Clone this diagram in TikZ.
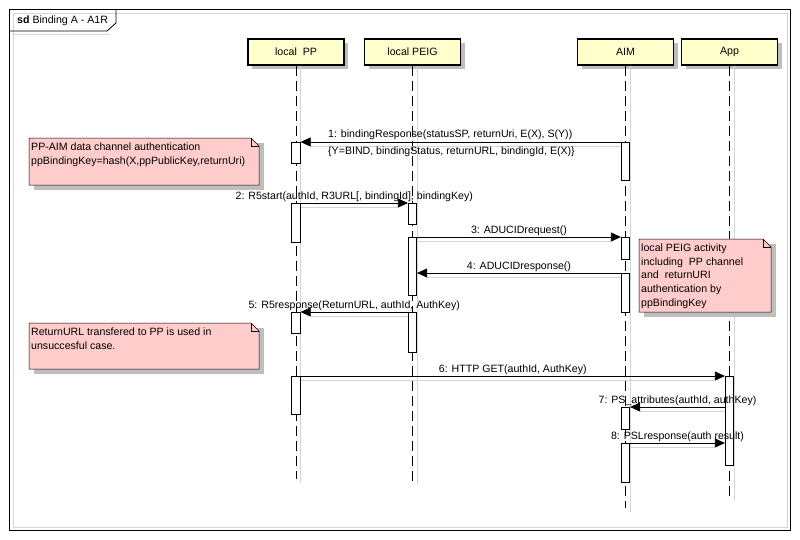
\documentclass[tikz,border=0pt]{standalone}
\usepackage{fontspec}
\setmainfont{Liberation Sans}
\usetikzlibrary{arrows.meta,shadows}
\definecolor{hdrfill}{RGB}{255,255,204}
\definecolor{notefill}{RGB}{255,204,204}
\definecolor{shad}{RGB}{190,190,190}
\definecolor{lshad}{RGB}{212,212,212}

\newcommand\actbar[4]{\node[actbar, minimum height={(#4-#3)*1pt}, anchor=north] (#1) at (#2,#3) {};}
\newcommand\umlnote[6]{%
  \fill[shad] ({#2+5},{#3+5}) rectangle ({#4+5},{#5+5});
  \draw[notefill, fill=notefill] (#2,#3) -- ({#4-8},#3) -- (#4,{#3+8}) -- (#4,#5) -- (#2,#5) -- cycle;
  \draw[noteline] (#2,#3) -- ({#4-8},#3) -- (#4,{#3+8}) -- (#4,#5) -- (#2,#5) -- cycle;
  \draw[noteline] ({#4-8},#3) -- ({#4-8},{#3+8}) -- (#4,{#3+8});
  \node[notetext] (#1) at ({#2+2},{#3+4.5}) {#6};}

\begin{document}
\begin{tikzpicture}[x=1pt,y=-1pt,
  every node/.style={font=\fontsize{10.6}{13.5}\selectfont},
  header/.style={draw=black, line width=1.2pt, fill=hdrfill, minimum width=96, minimum height=26, inner sep=0pt,
                 drop shadow={shadow xshift=4pt, shadow yshift=-4pt, fill=shad, opacity=1}},
  lifeline/.style={draw=black, line width=0.8pt, dash pattern=on 10pt off 5pt},
  lifeshadow/.style={draw=lshad, line width=1pt},
  actbar/.style={draw=black, line width=0.7pt, fill=white, minimum width=8.5, inner sep=0pt},
  msg/.style={draw=black, line width=0.7pt, -{Triangle[length=10pt,width=9pt]}},
  msgshadow/.style={draw=lshad, line width=1pt},
  lbl/.style={inner sep=1pt},
  noteline/.style={draw=black, line width=0.5pt},
  notetext/.style={anchor=north west, align=left, inner sep=0pt, font=\fontsize{10.6}{13.8}\selectfont}
]
\useasboundingbox (0,0) rectangle (800,539);
\fill[white] (0,0) rectangle (800,539);

% frame
\draw[lshad, line width=1pt] (13,13) rectangle (787,527);
\draw[black, line width=0.8pt] (9,9) rectangle (790,530);
\draw[lshad, line width=1pt] (13,34) -- (110,34);
\draw[black, line width=0.8pt] (9,31) -- (107,31) -- (116,23) -- (116,9);
\node[anchor=west, inner sep=0pt] (title) at (17,21) {\textbf{sd} Binding A - A1R};

% headers
\node[header] (pp) at (296,52) {local\ \ PP};
\node[header] (peig) at (412.5,52) {local PEIG};
\node[header] (aim) at (625.5,52) {AIM};
\node[header] (app) at (729.5,52) {App};

% lifeline ends
\coordinate (ppend) at (296,479);
\coordinate (peigend) at (412.5,481);
\coordinate (aimend) at (625.5,508);
\coordinate (append) at (729.5,497);

\foreach \h/\e in {pp/ppend, peig/peigend, aim/aimend, app/append}{
  \draw[lifeshadow] ([xshift=4.5pt]\h.south) -- ([xshift=4.5pt, yshift=-4pt]\e);
  \draw[lifeline] (\h.south) -- (\e);
}

% activation bars
\actbar{ppA}{296}{142}{163}
\actbar{ppB}{296}{203}{242}
\actbar{ppC}{296}{312}{333}
\actbar{ppD}{296}{376}{414}
\actbar{peigA}{412.5}{203}{224}
\actbar{peigB}{412.5}{237}{295}
\actbar{peigC}{412.5}{312}{352}
\actbar{aimA}{625.5}{142}{180}
\actbar{aimB}{625.5}{237}{259}
\actbar{aimC}{625.5}{273}{312}
\actbar{aimD}{625.5}{407}{429}
\actbar{aimE}{625.5}{443}{482}
\actbar{appA}{729.5}{376}{465}

% message 1
\draw[msgshadow] ([yshift=-4pt]aimA.north west) -- ([xshift=10pt,yshift=-4pt]aimA.north west -| ppA.east);
\draw[msg] (aimA.north west) -- (aimA.north west -| ppA.east);
\node[lbl, anchor=south west] (l1) at (327,141) {1: bindingResponse(statusSP, returnUri, E(X), S(Y))};
\node[lbl, anchor=north west] (l1b) at (327,146) {\{Y=BIND, bindingStatus, returnURL, bindingId, E(X)\}};

% message 2
\draw[msgshadow] ([yshift=-4pt]ppB.north east) -- ([xshift=-10pt,yshift=-4pt]peigA.north west);
\draw[msg] (ppB.north east) -- node[lbl, above] (l2) {2: R5start(authId, R3URL[, bindingId], bindingKey)} (peigA.north west);

% message 3
\draw[msgshadow] ([yshift=-4pt]peigB.north east) -- ([xshift=-10pt,yshift=-4pt]aimB.north west);
\draw[msg] (peigB.north east) -- node[lbl, above] (l3) {3: ADUCIDrequest()} (aimB.north west);

% message 4
\draw[msgshadow] ([yshift=-4pt]aimC.north west) -- ([xshift=10pt,yshift=-4pt]aimC.north west -| peigB.east);
\draw[msg] (aimC.north west) -- node[lbl, above] (l4) {4: ADUCIDresponse()} (aimC.north west -| peigB.east);

% message 5
\draw[msgshadow] ([yshift=-4pt]peigC.north west) -- ([xshift=10pt,yshift=-4pt]ppC.north east);
\draw[msg] (peigC.north west) -- node[lbl, above] (l5) {5: R5response(ReturnURL, authId, AuthKey)} (ppC.north east);

% message 6
\draw[msgshadow] ([yshift=-4pt]ppD.north east) -- ([xshift=-10pt,yshift=-4pt]appA.north west);
\draw[msg] (ppD.north east) -- node[lbl, above] (l6) {6: HTTP GET(authId, AuthKey)} (appA.north west);

% message 7
\draw[msgshadow] ([yshift=-4pt]aimD.north east -| appA.west) -- ([xshift=10pt,yshift=-4pt]aimD.north east);
\draw[msg] (aimD.north east -| appA.west) -- node[lbl, above] (l7) {7: PS\_attributes(authId, authKey)} (aimD.north east);

% message 8
\draw[msgshadow] ([yshift=-4pt]aimE.north east) -- ([xshift=-10pt,yshift=-4pt]aimE.north east -| appA.west);
\draw[msg] (aimE.north east) -- node[lbl, above] (l8) {8: PSLresponse(auth result)} (aimE.north east -| appA.west);

% notes
\umlnote{n1}{29}{138}{259}{185}{PP-AIM data channel authentication\\ppBindingKey=hash(X,ppPublicKey,returnUri)}
\umlnote{n2}{29}{323}{259}{369}{ReturnURL transfered to PP is used in\\unsuccesful case.}
\umlnote{n3}{639}{239}{771}{312}{local PEIG activity\\including\ \ PP channel\\and\ \ returnURI\\authentication by\\ppBindingKey}
\end{tikzpicture}
\end{document}
